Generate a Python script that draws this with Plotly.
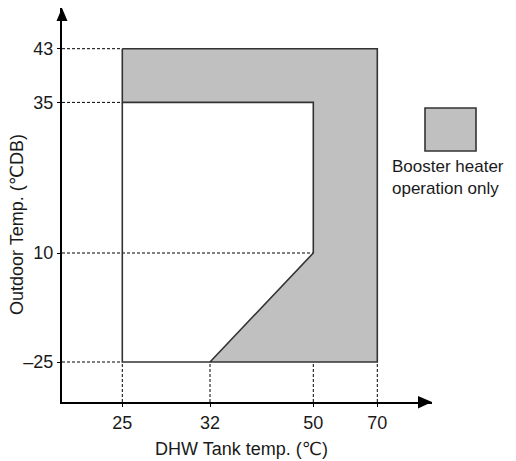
import numpy as np
import plotly.graph_objects as go

# ---------------- data ----------------
x_ticks = [25, 32, 50, 70]
x_tick_labels = ["25", "32", "50", "70"]
y_ticks = [-25, 10, 35, 43]
y_tick_labels = ["–25", "10", "35", "43"]

# booster-heater-only region (DHW tank temp, outdoor temp)
booster_x = [25, 70, 70, 32, 50, 50, 25, 25]
booster_y = [43, 43, -25, -25, 10, 35, 35, 43]
# remaining outline of the operating range
range_x = [25, 25, 32]
range_y = [35, -25, -25]

# dashed guide lines
guide_h_y = [43, 35, 10, -25]
guide_h_x = [25, 25, 50, 25]
guide_v_x = [25, 32, 50, 70]
guide_v_y = [-25, -25, 10, -25]

x_title = "DHW Tank temp. (℃)"
y_title = "Outdoor Temp. (℃DB)"
legend_text = "Booster heater<br>operation only"

# ---------------- schematic (non-linear) scale ----------------
X_BREAKS = [25, 32, 50, 70]
X_SLOTS = [60.3, 148, 251.3, 315.3]
Y_BREAKS = [-25, 10, 35, 43]
Y_SLOTS = [40, 149, 299.6, 353.3]


def sx(v):
    return np.interp(v, X_BREAKS, X_SLOTS)


def sy(v):
    return np.interp(v, Y_BREAKS, Y_SLOTS)


OFF = 8  # page body margin
W, H = 516 - OFF, 461 - OFF
ML, MT = 62 - OFF, 8 - OFF
PW, PH = 370, 394
MR, MB = W - ML - PW, H - MT - PH


def px(xp):
    return (xp - OFF - ML) / PW


def py(yp):
    return (MT + PH - (yp - OFF)) / PH


FONT = "Liberation Sans, Arial, DejaVu Sans, sans-serif"
TXT = "#1a1a1a"
GRAY = "#c0c0c0"
EDGE = "#333333"

fig = go.Figure()

# dashed guides
for yv, xv in zip(guide_h_y, guide_h_x):
    fig.add_trace(go.Scatter(x=[0, sx(xv)], y=[sy(yv), sy(yv)], mode="lines",
                             line=dict(color="black", width=1, dash="3px,2px"),
                             hoverinfo="skip", showlegend=False))
for xv, yv in zip(guide_v_x, guide_v_y):
    fig.add_trace(go.Scatter(x=[sx(xv), sx(xv)], y=[0, sy(yv)], mode="lines",
                             line=dict(color="black", width=1, dash="3px,2px"),
                             hoverinfo="skip", showlegend=False))

# booster region
fig.add_trace(go.Scatter(x=sx(booster_x), y=sy(booster_y), mode="lines",
                         fill="toself", fillcolor=GRAY,
                         line=dict(color=EDGE, width=1.6),
                         hoverinfo="skip", showlegend=False))
# rest of the range outline
fig.add_trace(go.Scatter(x=sx(range_x), y=sy(range_y), mode="lines",
                         line=dict(color=EDGE, width=1.6),
                         hoverinfo="skip", showlegend=False))

shapes = []
# arrowheads
shapes.append(dict(type="path", xref="paper", yref="paper",
                   path=f"M {px(62)} {py(8)} L {px(56.5)} {py(21)} L {px(67.5)} {py(21)} Z",
                   fillcolor="black", line=dict(width=0)))
shapes.append(dict(type="path", xref="paper", yref="paper",
                   path=f"M {px(432)} {py(402)} L {px(418)} {py(396)} L {px(418)} {py(408.5)} Z",
                   fillcolor="black", line=dict(width=0)))
# legend box
shapes.append(dict(type="rect", xref="paper", yref="paper",
                   x0=px(425), x1=px(476), y0=py(151), y1=py(108),
                   fillcolor=GRAY, line=dict(color=EDGE, width=1.6)))

annotations = [
    dict(text=x_title, xref="paper", yref="paper", x=px(241), y=py(449),
         xanchor="center", yanchor="middle", showarrow=False,
         font=dict(family=FONT, size=18, color=TXT)),
    dict(text=y_title, xref="paper", yref="paper", x=px(17), y=py(225),
         xanchor="center", yanchor="middle", showarrow=False, textangle=-90,
         font=dict(family=FONT, size=18, color=TXT)),
    dict(text=legend_text, xref="paper", yref="paper", x=px(390), y=py(155),
         xanchor="left", yanchor="top", align="left", showarrow=False,
         font=dict(family=FONT, size=17, color=TXT)),
]

fig.update_layout(
    width=W, height=H,
    margin=dict(l=ML, r=MR, t=MT, b=MB),
    plot_bgcolor="white", paper_bgcolor="white",
    shapes=shapes, annotations=annotations,
    xaxis=dict(range=[0, PW], showgrid=False, zeroline=False,
               showline=True, linecolor="black", linewidth=2,
               tickvals=sx(x_ticks), ticktext=x_tick_labels,
               ticks="outside", ticklen=3, tickcolor="black",
               tickfont=dict(family=FONT, size=18, color=TXT)),
    yaxis=dict(range=[0, PH], showgrid=False, zeroline=False,
               showline=True, linecolor="black", linewidth=2,
               tickvals=sy(y_ticks), ticktext=y_tick_labels,
               ticks="outside", ticklen=3, tickcolor="black",
               tickfont=dict(family=FONT, size=18, color=TXT)),
)

fig.write_html("out.html")
